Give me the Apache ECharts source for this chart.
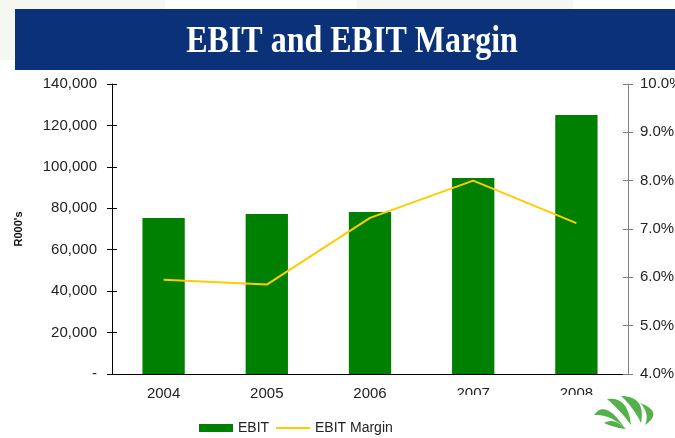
<!DOCTYPE html>
<html>
<head>
<meta charset="utf-8">
<script src="https://cdn.jsdelivr.net/npm/echarts@6/dist/echarts.min.js"></script>
<style>
  html, body { margin: 0; padding: 0; background: #fff; }
  #chart { width: 675px; height: 438px; }
</style>
</head>
<body>
<div id="chart"></div>
<script>
// values
var years = ['2004', '2005', '2006', '2007', '2008'];
var ebit = [75300, 77200, 78200, 94600, 125000];     // R000's
var ebitMargin = [5.95, 5.85, 7.23, 8.0, 7.12];        // %

var font = 'Liberation Sans, Arial, sans-serif';
var chart = echarts.init(document.getElementById('chart'));

// crescent leaf of the logo: two quadratic curves between the same tips
function leaf(a, b, c1, c2) {
  var pts = [];
  function q(p0, c, p1, t) {
    var u = 1 - t;
    return [u * u * p0[0] + 2 * u * t * c[0] + t * t * p1[0], u * u * p0[1] + 2 * u * t * c[1] + t * t * p1[1]];
  }
  for (var i = 0; i <= 16; i++) pts.push(q(a, c1, b, i / 16));
  for (var j = 16; j >= 0; j--) pts.push(q(a, c2, b, j / 16));
  return { type: 'polygon', z: 101, shape: { points: pts }, style: { fill: '#55b14c' } };
}

var grid = { left: 112, right: 47, top: 84, bottom: 64, outerBoundsMode: 'none' };
var legendText = { fontFamily: font, fontSize: 14, color: '#222' };

chart.setOption({
  animation: false,
  backgroundColor: '#fff',
  graphic: [
    // faint slide background at the top
    { type: 'rect', z: -1, shape: { x: 0, y: 0, width: 165, height: 60 }, style: { fill: '#f7f7f2' } },
    { type: 'rect', z: -1, shape: { x: 357, y: 0, width: 216, height: 9 }, style: { fill: '#f7f7f2' } },
    // title banner
    { type: 'rect', shape: { x: 15, y: 9, width: 660, height: 61 }, style: { fill: '#0b3278' } },
    { type: 'text', x: 352, y: 42, scaleY: 1.2, style: {
        text: 'EBIT and EBIT Margin', fill: '#fff', font: 'bold 32px "Liberation Serif", "Times New Roman", serif',
        textAlign: 'center', textVerticalAlign: 'middle' } },
    // white box of the logo, it hides the lower part of the last labels
    { type: 'rect', z: 100, shape: { x: 450, y: 395, width: 225, height: 43 }, style: { fill: '#fff' } },
    leaf([594, 415], [624, 427], [605, 399], [609, 414]),
    leaf([607, 399], [631, 425], [628, 396], [620, 410]),
    leaf([621, 396], [641, 423], [646, 396], [634, 408]),
    leaf([640, 403], [645, 425], [664, 412], [650, 413]),
    leaf([604, 423], [626, 429], [614, 417], [615, 428])
  ],
  grid: [grid, grid],
  legend: [{
    left: 194, top: 416, itemWidth: 34, itemHeight: 8,
    textStyle: legendText,
    data: [{ name: 'EBIT', icon: 'rect' }]
  }, {
    left: 271, top: 416, itemWidth: 34, itemHeight: 2,
    textStyle: legendText,
    data: [{ name: 'EBIT Margin', icon: 'rect' }]
  }],
  xAxis: [{
    type: 'category', data: years, gridIndex: 0,
    axisLine: { lineStyle: { color: '#000', width: 1 } },
    axisTick: { length: 5, lineStyle: { color: '#000' } },
    axisLabel: { margin: 12, fontFamily: font, fontSize: 15, color: '#222' }
  }, {
    // inner half of the crossing ticks
    type: 'category', data: years, gridIndex: 1,
    axisLine: { show: false }, axisLabel: { show: false },
    axisTick: { inside: true, length: 5, lineStyle: { color: '#000' } }
  }],
  yAxis: [{
    type: 'value', min: 0, max: 140000, interval: 20000, gridIndex: 0,
    name: "R000's", nameLocation: 'middle', nameRotate: 90, nameGap: 88,
    nameTextStyle: { fontFamily: font, fontSize: 11, fontWeight: 'bold', color: '#111' },
    axisLine: { show: true, lineStyle: { color: '#000' } },
    axisTick: { show: true, length: 5, lineStyle: { color: '#000' } },
    splitLine: { show: false },
    axisLabel: {
      margin: 15, fontFamily: font, fontSize: 15, color: '#222',
      formatter: function (v) { return v === 0 ? '-' : v.toLocaleString('en-US'); }
    }
  }, {
    type: 'value', min: 4, max: 10, interval: 1, position: 'right', gridIndex: 0,
    axisLine: { show: true, lineStyle: { color: '#808080' } },
    axisTick: { show: true, length: 5, lineStyle: { color: '#808080' } },
    splitLine: { show: false },
    axisLabel: {
      margin: 12, fontFamily: font, fontSize: 15, color: '#222',
      formatter: function (v) { return v.toFixed(1) + '%'; }
    }
  }, {
    type: 'value', min: 0, max: 140000, interval: 20000, position: 'left', gridIndex: 1,
    axisLine: { show: false }, axisLabel: { show: false }, splitLine: { show: false },
    axisTick: { show: true, inside: true, length: 5, lineStyle: { color: '#000' } }
  }, {
    type: 'value', min: 4, max: 10, interval: 1, position: 'right', gridIndex: 1,
    axisLine: { show: false }, axisLabel: { show: false }, splitLine: { show: false },
    axisTick: { show: true, inside: true, length: 5, lineStyle: { color: '#808080' } }
  }],
  series: [{
    name: 'EBIT', type: 'bar', data: ebit, xAxisIndex: 0, yAxisIndex: 0,
    barWidth: '41%', itemStyle: { color: '#008000' }
  }, {
    name: 'EBIT Margin', type: 'line', data: ebitMargin, xAxisIndex: 0, yAxisIndex: 1,
    symbol: 'none', lineStyle: { color: '#ffcc00', width: 2 }, itemStyle: { color: '#ffcc00' }
  }]
});
</script>
</body>
</html>
